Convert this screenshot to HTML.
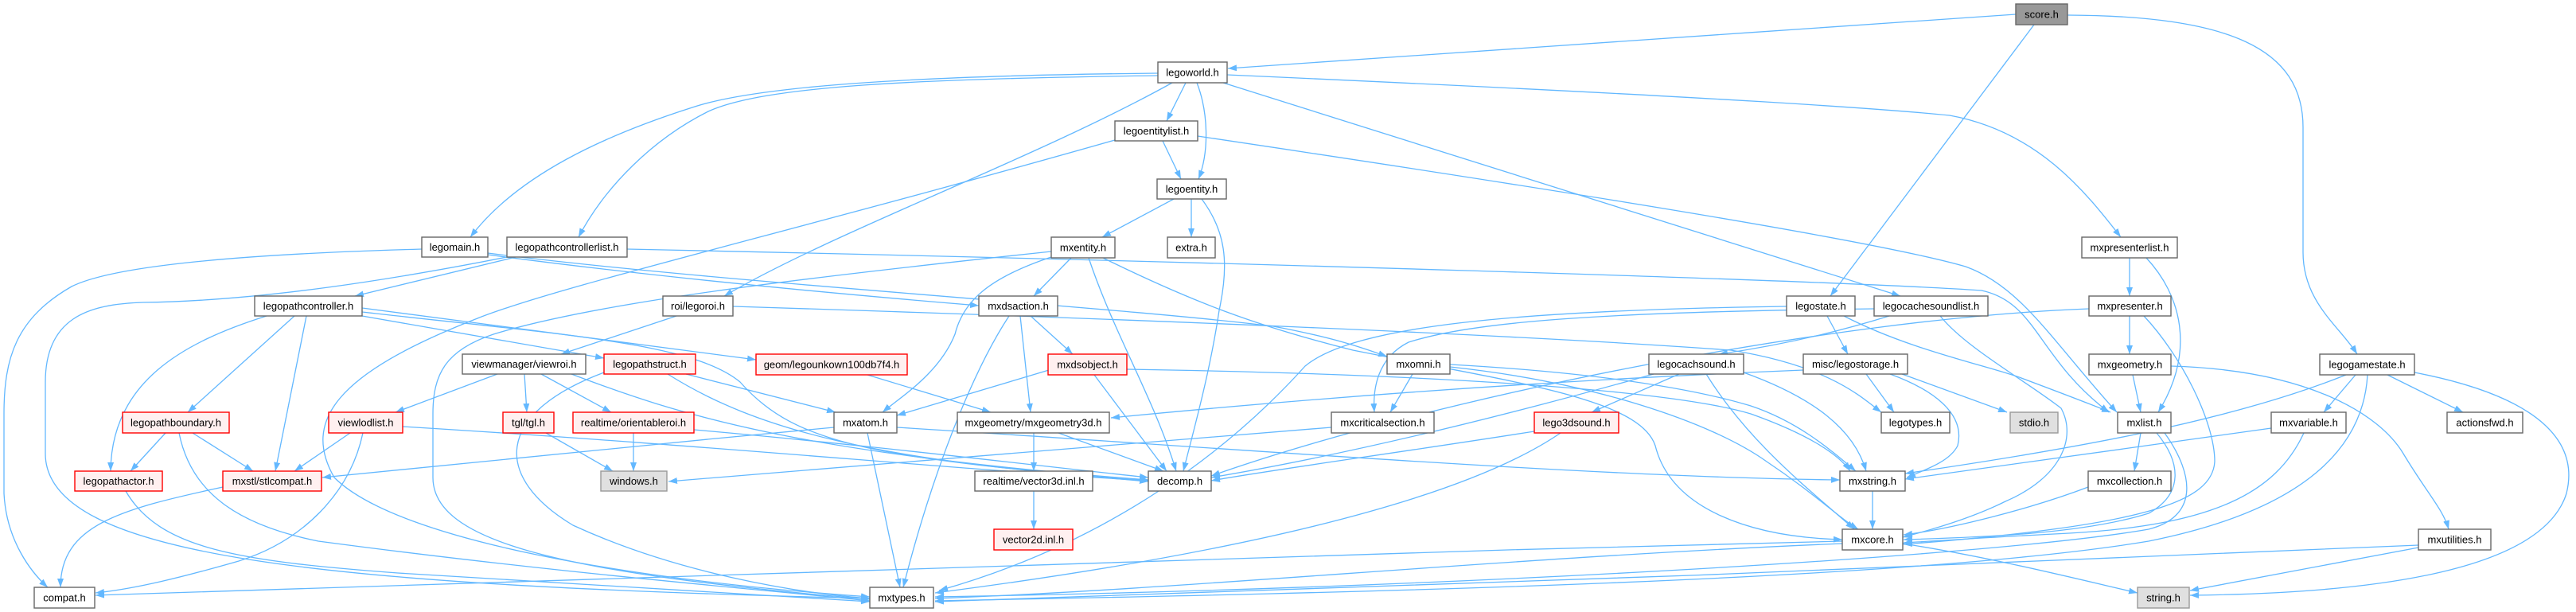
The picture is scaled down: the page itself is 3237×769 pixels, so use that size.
<!DOCTYPE html>
<html><head><meta charset="utf-8"><style>
html,body{margin:0;padding:0;background:#fff;}
svg{display:block;}
text{font-family:"Liberation Sans",Arial,sans-serif;font-size:13px;fill:#000;text-anchor:middle;}
.e{fill:none;stroke:#63b8ff;stroke-width:1.3;marker-end:url(#a);}
.n{fill:#fff;stroke:#666;stroke-width:1.4;}
.r{fill:#fff0f0;stroke:#ff0000;stroke-width:1.4;}
.g{fill:#e0e0e0;stroke:#999;stroke-width:1.4;}
.m{fill:#999;stroke:#666;stroke-width:1.4;}
</style></head><body>
<svg width="3237" height="769" viewBox="0 0 3237 769" xmlns="http://www.w3.org/2000/svg">
<defs><marker id="a" markerUnits="userSpaceOnUse" markerWidth="11" markerHeight="8" refX="11" refY="4" orient="auto"><path d="M0,0 L11,4 L0,8 z" fill="#63b8ff"/></marker></defs>
<g>
<path class="e" d="M2533,18 C2200,40 1800,70 1543,86"/>
<path class="e" d="M2556,31 L2300,372"/>
<path class="e" d="M2598,19 C2800,20 2894,60 2894,160 L2894,317 C2894,380 2940,410 2962,445"/>
<path class="e" d="M1490,104 L1466,152"/>
<path class="e" d="M1504,104 C1518,140 1520,190 1506,225"/>
<path class="e" d="M1455,92 C1150,95 950,108 870,135 C760,170 650,220 591,298"/>
<path class="e" d="M1455,95 C1150,99 960,108 890,140 C820,175 760,235 727,298"/>
<path class="e" d="M1473,104 C1300,200 1050,290 910,372"/>
<path class="e" d="M1542,94 C1900,110 2300,130 2450,145 C2560,165 2620,240 2665,298"/>
<path class="e" d="M1537,104 L2388,372"/>
<path class="e" d="M1461,177 L1484,225"/>
<path class="e" d="M1505,171 C1900,230 2350,300 2470,335 C2540,360 2580,430 2660,518"/>
<path class="e" d="M1401,176 C1000,290 700,360 600,400 C420,470 380,530 420,600 C500,680 800,730 1093,750"/>
<path class="e" d="M1475,250 L1385,298"/>
<path class="e" d="M1497,250 L1497,298"/>
<path class="e" d="M1510,250 C1540,290 1545,330 1532,390 C1520,470 1500,540 1487,592"/>
<path class="e" d="M530,313 C350,318 150,330 90,360 C20,400 5,450 5,520 L5,620 C8,680 40,720 60,738"/>
<path class="e" d="M613,320 C800,345 1000,365 1230,384"/>
<path class="e" d="M613,318 C900,355 1400,385 1600,410 C1680,425 1715,438 1743,448"/>
<path class="e" d="M648,323 L446,372"/>
<path class="e" d="M788,313 C1500,328 2300,352 2490,365 C2560,380 2560,450 2650,518"/>
<path class="e" d="M637,323 C500,350 330,378 180,380 C110,382 57,400 57,480 L57,570 C57,700 400,735 1093,752"/>
<path class="e" d="M335,397 C230,430 140,480 139,592"/>
<path class="e" d="M370,397 L236,518"/>
<path class="e" d="M385,397 L346,592"/>
<path class="e" d="M455,397 L759,450"/>
<path class="e" d="M455,387 L950,452"/>
<path class="e" d="M455,392 C700,420 870,430 930,480 C1000,560 1100,575 1443,605"/>
<path class="e" d="M208,544 L164,592"/>
<path class="e" d="M242,544 L318,592"/>
<path class="e" d="M225,544 C240,620 300,660 400,680 C700,720 950,740 1093,755"/>
<path class="e" d="M440,544 L370,592"/>
<path class="e" d="M456,544 C440,620 380,680 300,705 C230,725 170,740 120,745"/>
<path class="e" d="M506,536 C900,560 1200,590 1443,604"/>
<path class="e" d="M625,470 L497,518"/>
<path class="e" d="M659,470 L662,518"/>
<path class="e" d="M680,470 L768,518"/>
<path class="e" d="M718,470 C850,520 1000,570 1443,603"/>
<path class="e" d="M862,470 L1050,518"/>
<path class="e" d="M759,468 C620,520 620,600 720,660 C850,720 1000,745 1093,752"/>
<path class="e" d="M839,470 C950,540 1100,580 1443,604"/>
<path class="e" d="M1090,471 L1245,518"/>
<path class="e" d="M796,544 L796,592"/>
<path class="e" d="M872,540 C1100,560 1300,585 1443,600"/>
<path class="e" d="M686,544 L770,592"/>
<path class="e" d="M280,612 C150,640 76,660 76,738"/>
<path class="e" d="M158,617 C200,690 300,705 500,720 C800,740 1000,750 1093,756"/>
<path class="e" d="M1090,544 L1131,738"/>
<path class="e" d="M1048,537 C800,560 500,590 405,600"/>
<path class="e" d="M1127,537 C1500,560 2000,600 2312,603"/>
<path class="e" d="M1346,324 L1299,372"/>
<path class="e" d="M1321,323 C1240,350 1210,380 1200,420 C1180,470 1130,500 1109,518"/>
<path class="e" d="M1368,324 C1400,420 1450,500 1478,592"/>
<path class="e" d="M1321,316 C1000,350 750,380 620,420 C560,440 544,470 544,520 L544,600 C544,680 700,720 1093,753"/>
<path class="e" d="M1386,324 C1500,380 1580,410 1700,440 C1900,480 2060,500 2080,560 C2100,640 2200,675 2315,678"/>
<path class="e" d="M1295,397 L1348,445"/>
<path class="e" d="M1282,397 L1295,518"/>
<path class="e" d="M1268,397 C1220,470 1170,600 1135,738"/>
<path class="e" d="M1318,465 L1127,522"/>
<path class="e" d="M1375,471 L1466,592"/>
<path class="e" d="M1416,464 C1800,470 2100,490 2200,520 C2270,545 2310,570 2325,592"/>
<path class="e" d="M1299,544 L1299,592"/>
<path class="e" d="M1330,544 L1462,592"/>
<path class="e" d="M1299,617 L1299,665"/>
<path class="e" d="M1775,470 L1747,518"/>
<path class="e" d="M1822,458 C1950,465 2100,480 2200,510 C2260,530 2300,565 2332,592"/>
<path class="e" d="M1822,461 C2000,480 2150,530 2220,580 C2280,620 2310,650 2335,665"/>
<path class="e" d="M1673,537 C1400,560 1000,590 840,605"/>
<path class="e" d="M1928,542 C1750,570 1600,590 1522,604"/>
<path class="e" d="M1961,544 C1850,620 1600,690 1175,745"/>
<path class="e" d="M2296,397 L2322,445"/>
<path class="e" d="M2245,385 C1900,390 1700,410 1640,460 C1550,560 1400,680 1180,742"/>
<path class="e" d="M2317,397 C2400,440 2500,460 2540,475 C2580,490 2620,505 2652,518"/>
<path class="e" d="M2374,397 C2300,420 2230,435 2160,445"/>
<path class="e" d="M2355,388 C2000,392 1850,405 1770,430 C1730,450 1725,490 1727,518"/>
<path class="e" d="M2438,397 C2470,437 2548,480 2590,513 C2610,550 2590,600 2520,630 C2480,650 2430,665 2391,675"/>
<path class="e" d="M2110,470 L2000,518"/>
<path class="e" d="M2078,470 C1900,520 1700,570 1522,600"/>
<path class="e" d="M2144,470 C2200,560 2280,620 2330,665"/>
<path class="e" d="M2191,468 C2280,500 2330,540 2345,592"/>
<path class="e" d="M2345,470 L2380,518"/>
<path class="e" d="M2390,470 L2522,518"/>
<path class="e" d="M2375,470 C2430,490 2470,520 2460,560 C2450,580 2420,590 2396,600"/>
<path class="e" d="M2266,465 C1900,480 1600,505 1396,525"/>
<path class="e" d="M2353,617 L2353,665"/>
<path class="e" d="M2315,680 C1500,700 600,730 120,748"/>
<path class="e" d="M2315,683 C1900,700 1500,740 1175,752"/>
<path class="e" d="M2391,683 C2500,700 2600,725 2686,745"/>
<path class="e" d="M2690,544 L2682,592"/>
<path class="e" d="M2710,544 C2740,580 2745,620 2700,645 C2620,670 2500,675 2392,678"/>
<path class="e" d="M2720,544 C2760,600 2760,650 2700,665 C2500,700 1800,740 1175,750"/>
<path class="e" d="M2624,612 C2550,640 2450,665 2392,672"/>
<path class="e" d="M2676,397 L2676,445"/>
<path class="e" d="M2625,388 C2300,400 1800,500 1522,598"/>
<path class="e" d="M2694,397 C2741,447 2783,530 2783,580 C2780,630 2700,660 2392,684"/>
<path class="e" d="M2676,324 L2676,372"/>
<path class="e" d="M2697,324 C2740,370 2760,440 2712,518"/>
<path class="e" d="M2680,471 L2690,518"/>
<path class="e" d="M2728,460 C2900,465 2990,520 3020,570 C3050,620 3070,640 3077,665"/>
<path class="e" d="M2854,538 C2700,560 2550,580 2394,602"/>
<path class="e" d="M2895,544 C2860,620 2780,660 2600,670 C2500,675 2430,680 2392,682"/>
<path class="e" d="M2960,471 L2920,518"/>
<path class="e" d="M3000,471 L3095,518"/>
<path class="e" d="M2948,471 C2800,530 2600,565 2394,595"/>
<path class="e" d="M2975,471 C2970,560 2900,640 2700,680 C2400,730 1700,745 1175,755"/>
<path class="e" d="M3034,468 C3200,500 3240,560 3225,620 C3200,700 3050,745 2752,748"/>
<path class="e" d="M3039,688 L2752,742"/>
<path class="e" d="M3039,685 C2500,710 1700,740 1175,756"/>
<path class="e" d="M850,397 L705,445"/>
<path class="e" d="M921,385 C1400,400 1900,420 2175,440 C2300,460 2340,500 2364,518"/>
</g>
<g>
<rect class="m" x="2533" y="5" width="65" height="26"/><text x="2565.5" y="22.5">score.h</text>
<rect class="n" x="1455" y="78" width="87" height="26"/><text x="1498.5" y="95.5">legoworld.h</text>
<rect class="n" x="1401" y="152" width="104" height="25"/><text x="1453" y="169">legoentitylist.h</text>
<rect class="n" x="1454" y="225" width="87" height="25"/><text x="1497.5" y="242">legoentity.h</text>
<rect class="n" x="530" y="298" width="83" height="25"/><text x="571.5" y="315">legomain.h</text>
<rect class="n" x="637" y="298" width="151" height="25"/><text x="712.5" y="315">legopathcontrollerlist.h</text>
<rect class="n" x="1321" y="298" width="80" height="26"/><text x="1361" y="315.5">mxentity.h</text>
<rect class="n" x="1467" y="298" width="60" height="26"/><text x="1497" y="315.5">extra.h</text>
<rect class="n" x="2616" y="298" width="120" height="26"/><text x="2676" y="315.5">mxpresenterlist.h</text>
<rect class="n" x="320" y="372" width="135" height="25"/><text x="387.5" y="389">legopathcontroller.h</text>
<rect class="n" x="833" y="372" width="88" height="25"/><text x="877" y="389">roi/legoroi.h</text>
<rect class="n" x="1230" y="372" width="99" height="25"/><text x="1279.5" y="389">mxdsaction.h</text>
<rect class="n" x="2245" y="372" width="86" height="25"/><text x="2288" y="389">legostate.h</text>
<rect class="n" x="2355" y="372" width="143" height="25"/><text x="2426.5" y="389">legocachesoundlist.h</text>
<rect class="n" x="2625" y="372" width="103" height="25"/><text x="2676.5" y="389">mxpresenter.h</text>
<rect class="n" x="2915" y="445" width="119" height="26"/><text x="2974.5" y="462.5">legogamestate.h</text>
<rect class="n" x="581" y="445" width="155" height="25"/><text x="658.5" y="462">viewmanager/viewroi.h</text>
<rect class="r" x="759" y="445" width="115" height="25"/><text x="816.5" y="462">legopathstruct.h</text>
<rect class="r" x="950" y="445" width="190" height="26"/><text x="1045" y="462.5">geom/legounkown100db7f4.h</text>
<rect class="r" x="1317" y="445" width="99" height="26"/><text x="1366.5" y="462.5">mxdsobject.h</text>
<rect class="n" x="1743" y="445" width="79" height="25"/><text x="1782.5" y="462">mxomni.h</text>
<rect class="n" x="2072" y="445" width="119" height="25"/><text x="2131.5" y="462">legocachsound.h</text>
<rect class="n" x="2266" y="445" width="131" height="25"/><text x="2331.5" y="462">misc/legostorage.h</text>
<rect class="n" x="2625" y="445" width="103" height="26"/><text x="2676.5" y="462.5">mxgeometry.h</text>
<rect class="r" x="154" y="518" width="134" height="26"/><text x="221" y="535.5">legopathboundary.h</text>
<rect class="r" x="413" y="518" width="93" height="26"/><text x="459.5" y="535.5">viewlodlist.h</text>
<rect class="r" x="632" y="518" width="64" height="26"/><text x="664" y="535.5">tgl/tgl.h</text>
<rect class="r" x="720" y="518" width="152" height="26"/><text x="796" y="535.5">realtime/orientableroi.h</text>
<rect class="n" x="1048" y="518" width="79" height="26"/><text x="1087.5" y="535.5">mxatom.h</text>
<rect class="n" x="1203" y="518" width="191" height="26"/><text x="1298.5" y="535.5">mxgeometry/mxgeometry3d.h</text>
<rect class="n" x="1673" y="518" width="129" height="26"/><text x="1737.5" y="535.5">mxcriticalsection.h</text>
<rect class="r" x="1928" y="518" width="106" height="26"/><text x="1981" y="535.5">lego3dsound.h</text>
<rect class="n" x="2364" y="518" width="86" height="26"/><text x="2407" y="535.5">legotypes.h</text>
<rect class="g" x="2526" y="518" width="60" height="26"/><text x="2556" y="535.5">stdio.h</text>
<rect class="n" x="2661" y="518" width="67" height="26"/><text x="2694.5" y="535.5">mxlist.h</text>
<rect class="n" x="2854" y="518" width="94" height="26"/><text x="2901" y="535.5">mxvariable.h</text>
<rect class="n" x="3075" y="518" width="95" height="26"/><text x="3122.5" y="535.5">actionsfwd.h</text>
<rect class="r" x="94" y="592" width="110" height="25"/><text x="149" y="609">legopathactor.h</text>
<rect class="r" x="280" y="592" width="124" height="25"/><text x="342" y="609">mxstl/stlcompat.h</text>
<rect class="g" x="755" y="592" width="83" height="25"/><text x="796.5" y="609">windows.h</text>
<rect class="n" x="1225" y="592" width="148" height="25"/><text x="1299" y="609">realtime/vector3d.inl.h</text>
<rect class="n" x="1443" y="592" width="79" height="25"/><text x="1482.5" y="609">decomp.h</text>
<rect class="n" x="2312" y="592" width="82" height="25"/><text x="2353" y="609">mxstring.h</text>
<rect class="n" x="2624" y="592" width="104" height="25"/><text x="2676" y="609">mxcollection.h</text>
<rect class="r" x="1249" y="665" width="99" height="26"/><text x="1298.5" y="682.5">vector2d.inl.h</text>
<rect class="n" x="2315" y="665" width="76" height="26"/><text x="2353" y="682.5">mxcore.h</text>
<rect class="n" x="3039" y="665" width="91" height="26"/><text x="3084.5" y="682.5">mxutilities.h</text>
<rect class="n" x="43" y="738" width="76" height="26"/><text x="81" y="755.5">compat.h</text>
<rect class="n" x="1093" y="738" width="80" height="26"/><text x="1133" y="755.5">mxtypes.h</text>
<rect class="g" x="2686" y="738" width="65" height="26"/><text x="2718.5" y="755.5">string.h</text>
</g>
</svg>
</body></html>
